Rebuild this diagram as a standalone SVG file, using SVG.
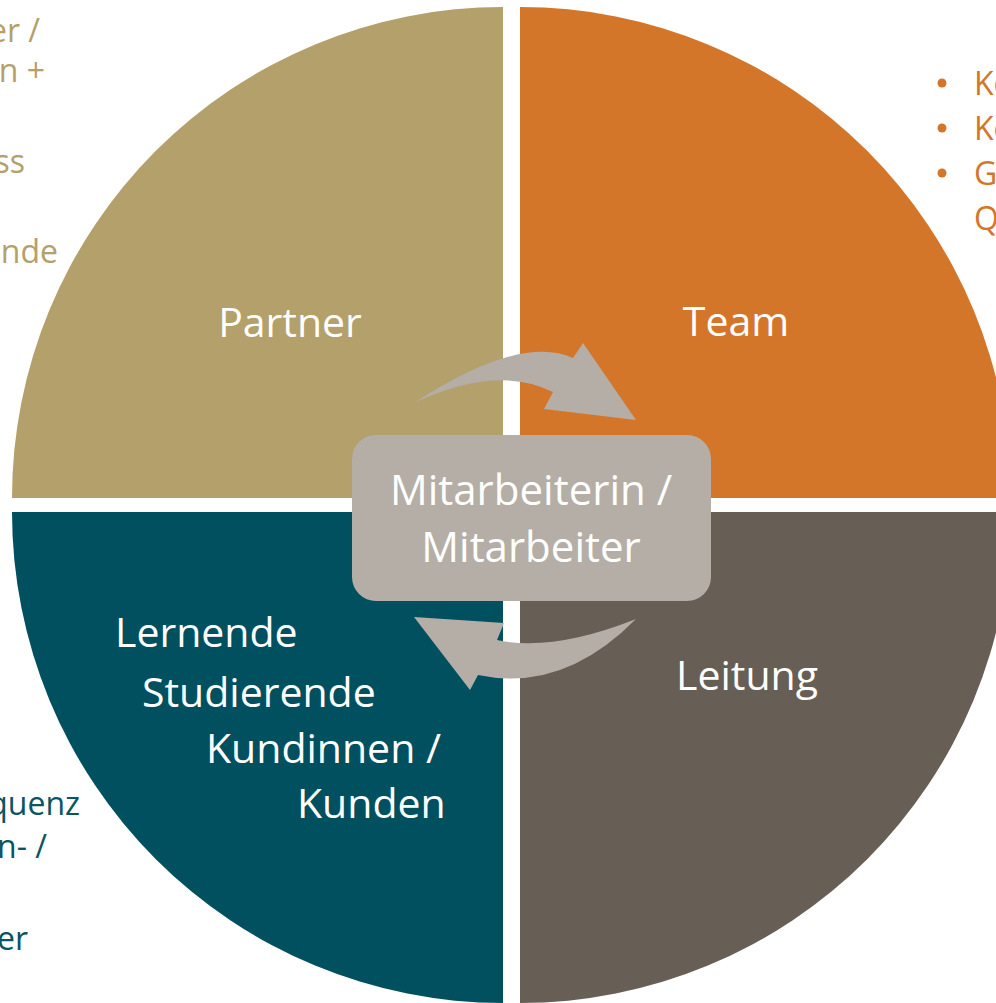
<svg xmlns="http://www.w3.org/2000/svg" width="996" height="1003" viewBox="0 0 996 1003">
<style>
.lbl{font-family:"Open Sans","Liberation Sans",sans-serif;font-size:41px;fill:#ffffff}
.box{font-size:42px}
.edge{font-family:"Open Sans","Liberation Sans",sans-serif;font-size:32px}
.gold{fill:#B3A06A}
.orange{fill:#D47629}
.teal{fill:#0B5463}
.arrow{fill:#B4AEA6}
</style>
<rect width="996" height="1003" fill="#ffffff"/>
<g id="edge-partner">
<text class="edge gold" x="40" y="42" text-anchor="end">er /</text>
<text class="edge gold" x="45" y="82" text-anchor="end">n +</text>
<text class="edge gold" x="25" y="173" text-anchor="end">ss</text>
<text class="edge gold" x="58" y="263" text-anchor="end">ende</text>
</g>
<g id="edge-team">
<circle class="orange" cx="942" cy="83" r="4.5"/>
<text class="edge orange" x="974" y="95">Ko</text>
<circle class="orange" cx="942" cy="128" r="4.5"/>
<text class="edge orange" x="974" y="140">Ko</text>
<circle class="orange" cx="942" cy="173" r="4.5"/>
<text class="edge orange" x="974" y="185">G</text>
<text class="edge orange" x="974" y="230">Q</text>
</g>
<g id="edge-lernende">
<text class="edge teal" x="80" y="815" text-anchor="end">quenz</text>
<text class="edge teal" x="47" y="858" text-anchor="end">n- /</text>
<text class="edge teal" x="28" y="950" text-anchor="end">er</text>
</g>
<g id="partner">
<path d="M503,498 L12,498 A491,491 0 0 1 503,7 Z" fill="#B3A06A"/>
<text class="lbl" x="290" y="337" text-anchor="middle">Partner</text>
</g>
<g id="team">
<path d="M520,498 L520,7 A491,491 0 0 1 1011,498 Z" fill="#D47629"/>
<text class="lbl" x="736" y="336" text-anchor="middle">Team</text>
</g>
<g id="leitung">
<path d="M520,512 L1011,512 A491,491 0 0 1 520,1003 Z" fill="#675E55"/>
<text class="lbl" x="747" y="690" text-anchor="middle">Leitung</text>
</g>
<g id="lernende">
<path d="M503,512 L503,1003 A491,491 0 0 1 12,512 Z" fill="#00505F"/>
<text class="lbl" x="115" y="647">Lernende</text>
<text class="lbl" x="142" y="707">Studierende</text>
<text class="lbl" x="206" y="763">Kundinnen /</text>
<text class="lbl" x="297" y="818">Kunden</text>
</g>
<g id="connectors">
<path class="arrow" d="M414,403 Q520,334 573,358 L583,343 L636,420 L544,409 L553,392 Q497,364 414,403 Z"/>
<path class="arrow" d="M636,619 Q553,652 497,640 L504,623 L414,617 L470,690 L478,675 Q563,693 636,619 Z"/>
</g>
<g id="mitarbeiter">
<rect x="352" y="435" width="359" height="166" rx="24" ry="24" fill="#B4AEA6"/>
<text class="lbl box" x="531" y="505" text-anchor="middle">Mitarbeiterin /</text>
<text class="lbl box" x="531" y="562" text-anchor="middle">Mitarbeiter</text>
</g>
</svg>
